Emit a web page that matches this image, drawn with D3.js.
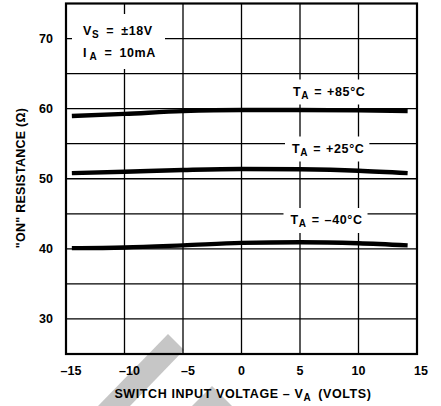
<!DOCTYPE html>
<html>
<head>
<meta charset="utf-8">
<script src="https://cdn.jsdelivr.net/npm/d3@7"></script>
<style>
  html, body { margin: 0; padding: 0; background: #fff; }
  svg text { font-family: "Liberation Sans", Arial, Helvetica, sans-serif; font-weight: bold; fill: #000; }
</style>
</head>
<body>
<svg id="chart" width="441" height="406"></svg>
<script>
// Switch input voltage (V) sample points
const voltages = [-14.5, -10, -5, 0, 5, 10, 14.2];
// "ON" resistance (ohms) at each ambient temperature
const rOn85 = [58.95, 59.25, 59.65, 59.8, 59.8, 59.75, 59.65];
const rOn25 = [50.8, 51.0, 51.25, 51.4, 51.35, 51.15, 50.8];
const rOnM40 = [40.1, 40.2, 40.5, 40.85, 40.95, 40.8, 40.5];
const seriesNames = ["+85°C", "+25°C", "\u201340°C"];
// Tick values
const xTicks = [-15, -10, -5, 0, 5, 10, 15];
const xTickLabels = ["\u201315", "\u201310", "\u20135", "0", "5", "10", "15"];
const yTicks = [30, 40, 50, 60, 70];
const yGrid = [30, 35, 40, 45, 50, 55, 60, 65, 70];

const svg = d3.select("#chart");
const x = d3.scaleLinear().domain([-15, 15]).range([66, 417]);
const y = d3.scaleLinear().domain([25, 75]).range([354, 3.5]);

// light diagonal stamp behind the chart
const stamp = svg.append("g").attr("fill", "#c6c6c6");
stamp.append("polygon").attr("points", "168,334 184,350 130,406 98,406");
stamp.append("polygon").attr("points", "212,386 232,406 192,406");

// grid
const grid = svg.append("g").attr("stroke", "#000").attr("stroke-width", 1.3);
grid.selectAll("line.h").data(yGrid).join("line").attr("class", "h")
  .attr("x1", x(-15)).attr("x2", x(15)).attr("y1", d => y(d)).attr("y2", d => y(d));
grid.selectAll("line.v").data(xTicks.slice(1, -1)).join("line").attr("class", "v")
  .attr("y1", y(25)).attr("y2", y(75)).attr("x1", d => x(d)).attr("x2", d => x(d));

// conditions box (covers grid)
svg.append("rect").attr("x", 72).attr("y", 14).attr("width", 93).attr("height", 55).attr("fill", "#fff");
const cond = svg.append("g").attr("font-size", 12.5)
  .style("letter-spacing", "0.6px").style("word-spacing", "3px");
const t1 = cond.append("text").attr("x", 83).attr("y", 35);
t1.append("tspan").text("V");
t1.append("tspan").attr("font-size", 10).attr("dy", 3).text("S");
t1.append("tspan").attr("dy", -3).text(" = \u00b118V");
const t2 = cond.append("text").attr("x", 83).attr("y", 57);
t2.append("tspan").text("I");
t2.append("tspan").attr("font-size", 10).attr("dy", 3).attr("dx", 2.5).text("A");
t2.append("tspan").attr("dy", -3).text(" = 10mA");

// frame
svg.append("rect").attr("x", x(-15)).attr("y", y(75))
  .attr("width", x(15) - x(-15)).attr("height", y(25) - y(75))
  .attr("fill", "none").attr("stroke", "#000").attr("stroke-width", 2.2);

// curve labels with white backing
const labelPos = [
  { x: 293, y: 95.5 },
  { x: 292, y: 152.5 },
  { x: 290.5, y: 224 }
];
seriesNames.forEach((name, i) => {
  const g = svg.append("g");
  const bg = g.append("rect").attr("fill", "#fff");
  const t = g.append("text").attr("x", labelPos[i].x).attr("y", labelPos[i].y).attr("font-size", 12.5)
    .style("letter-spacing", "0.6px").style("word-spacing", "1px");
  t.append("tspan").text("T");
  t.append("tspan").attr("font-size", 10).attr("dy", 3).text("A");
  t.append("tspan").attr("dy", -3).text(" = " + name);
  const b = t.node().getBBox();
  bg.attr("x", b.x - 7).attr("y", b.y - 5).attr("width", b.width + 12).attr("height", b.height + 9);
});

// curves
const line = d3.line().x((d, i) => x(voltages[i])).y(d => y(d)).curve(d3.curveMonotoneX);
[rOn85, rOn25, rOnM40].forEach(s => {
  svg.append("path").datum(s).attr("d", line)
    .attr("fill", "none").attr("stroke", "#000").attr("stroke-width", 4.4);
});

// y tick labels
svg.append("g").attr("font-size", 12.5).selectAll("text").data(yTicks).join("text")
  .attr("x", 53).attr("y", d => y(d)).attr("dy", "0.36em").attr("text-anchor", "end").text(d => d);

// x tick labels
svg.append("g").attr("font-size", 12.5).selectAll("text").data(xTicks).join("text")
  .attr("x", (d, i) => x(d) + (d < 0 ? 5 : (d === 15 ? 4 : 0)))
  .attr("y", 375).attr("text-anchor", "middle").text((d, i) => xTickLabels[i]);

// x axis title
const xt = svg.append("text").attr("x", 243).attr("y", 398).attr("text-anchor", "middle")
  .attr("font-size", 12.5).style("letter-spacing", "0.6px");
xt.append("tspan").text("SWITCH INPUT VOLTAGE \u2013 V");
xt.append("tspan").attr("font-size", 10).attr("dy", 3).text("A");
xt.append("tspan").attr("dy", -3).attr("dx", 3).text(" (VOLTS)");

// y axis title
svg.append("text").attr("transform", "translate(25,178) rotate(-90)")
  .attr("text-anchor", "middle").attr("font-size", 12.5).style("letter-spacing", "0.25px")
  .text("\"ON\" RESISTANCE (\u03a9)");
</script>
</body>
</html>
